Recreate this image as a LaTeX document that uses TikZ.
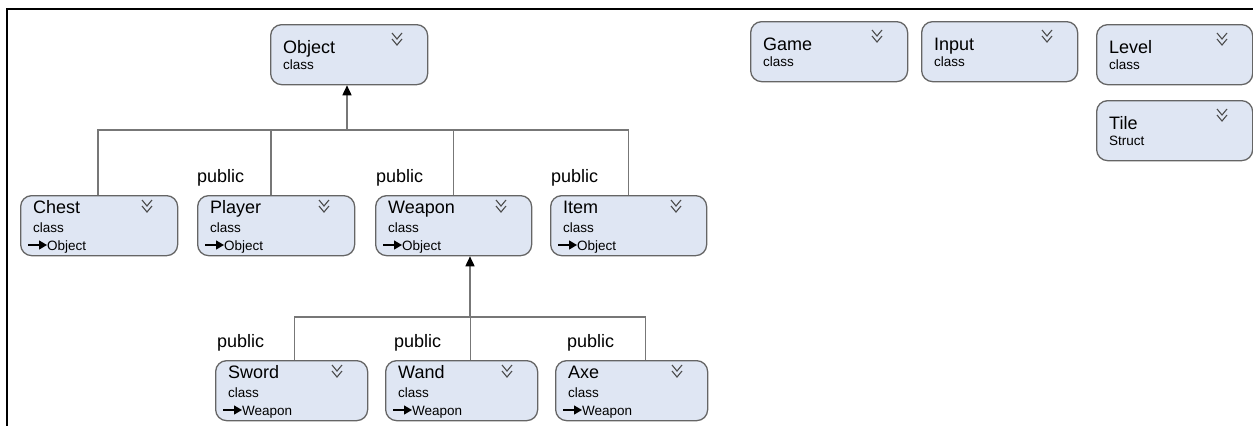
\documentclass[tikz,border=0pt]{standalone}
\usepackage{fontspec}
\setmainfont{Liberation Sans}
\usetikzlibrary{arrows.meta}
\definecolor{boxfill}{HTML}{DFE6F3}
\definecolor{boxline}{HTML}{656565}
\definecolor{connline}{HTML}{777777}
\tikzset{
  cls/.style={draw=boxline, fill=boxfill, line width=1.3pt, rounded corners=11pt,
    inner sep=0pt, anchor=north west, minimum height=60pt},
  ttl/.style={anchor=base west, inner sep=0pt, font=\fontsize{18}{20}\selectfont},
  sub/.style={anchor=base west, inner sep=0pt, font=\fontsize{13.5}{15}\selectfont},
  pub/.style={anchor=base west, inner sep=0pt, font=\fontsize{18}{20}\selectfont},
  conn/.style={draw=connline, line width=1.6pt},
  inh/.style={conn, -{Triangle[length=10pt,width=9pt,color=black]}},
  txtarrow/.style={draw=black, line width=1.3pt, -{Triangle[length=8pt,width=9pt]}},
  chev/.style={draw=black!70, line width=1.1pt},
  frame/.style={draw=black, line width=1.5pt}
}
\newcommand\clsthree[7]{%
  \begin{scope}[shift={(#2,#3)}]
    \node[cls, minimum width=#4pt] (#1) at (0,0) {};
    \node[ttl] (#1-t) at (13,18) {#5};
    \node[sub] (#1-s) at (13,37) {#6};
    \node[sub] (#1-p) at (27,55) {#7};
    \draw[txtarrow] (8,50) -- (27,50);
    \draw[chev] (#4-35,5) -- (#4-30,11) -- (#4-25,5) (#4-35,11) -- (#4-30,17) -- (#4-25,11);
  \end{scope}}
\newcommand\clstwo[6]{%
  \begin{scope}[shift={(#2,#3)}]
    \node[cls, minimum width=#4pt] (#1) at (0,0) {};
    \node[ttl] (#1-t) at (13,29) {#5};
    \node[sub] (#1-s) at (13,45) {#6};
    \draw[chev] (#4-35,9) -- (#4-30,15) -- (#4-25,9) (#4-35,15) -- (#4-30,21) -- (#4-25,15);
  \end{scope}}
\begin{document}
\begin{tikzpicture}[x=1pt,y=-1pt]
  \useasboundingbox (0,0) rectangle (1253,426);
  % frame
  \coordinate (fTL) at (7,9);
  \coordinate (fTR) at (1253,9);
  \coordinate (fBL) at (7,426);
  \draw[frame] (fTR) -- (fTL) -- (fBL);
  % classes
  \clstwo{Object}{270}{24}{157}{Object}{class}
  \clsthree{Chest}{20}{195}{157}{Chest}{class}{Object}
  \clsthree{Player}{197}{195}{157}{Player}{class}{Object}
  \clsthree{Weapon}{375}{195}{156}{Weapon}{class}{Object}
  \clsthree{Item}{550}{195}{156}{Item}{class}{Object}
  \clsthree{Sword}{215}{360}{152}{Sword}{class}{Weapon}
  \clsthree{Wand}{385}{360}{152}{Wand}{class}{Weapon}
  \clsthree{Axe}{555}{360}{152}{Axe}{class}{Weapon}
  \clstwo{Game}{750}{21}{157}{Game}{class}
  \clstwo{Input}{921}{21}{156}{Input}{class}
  \clstwo{Level}{1096}{24}{156}{Level}{class}
  \clstwo{Tile}{1096}{100}{156}{Tile}{Struct}
  % labels
  \node[pub] (pPlayer) at (197,182) {public};
  \node[pub] (pWeapon) at (376,182) {public};
  \node[pub] (pItem) at (551,182) {public};
  \node[pub] (pSword) at (217,347) {public};
  \node[pub] (pWand) at (394,347) {public};
  \node[pub] (pAxe) at (567,347) {public};
  % first inheritance tree
  \coordinate (bus1) at (347,130);
  \draw[conn] ([xshift=-1pt]Chest.north) |- (bus1);
  \draw[conn] (Item.north) |- (bus1);
  \draw[conn] ([xshift=-5pt]Player.north) -- ([xshift=-5pt]Player.north |- bus1);
  \draw[conn] (Weapon.north) -- (Weapon.north |- bus1);
  \draw[inh] (bus1) -- (bus1 |- Object.south);
  % second inheritance tree
  \coordinate (bus2) at (470,317);
  \draw[conn] ([xshift=3pt]Sword.north) |- (bus2);
  \draw[conn] ([xshift=14pt]Axe.north) |- (bus2);
  \draw[conn] ([xshift=9pt]Wand.north) -- ([xshift=9pt]Wand.north |- bus2);
  \draw[inh] (bus2) -- (bus2 |- Weapon.south);
\end{tikzpicture}
\end{document}
